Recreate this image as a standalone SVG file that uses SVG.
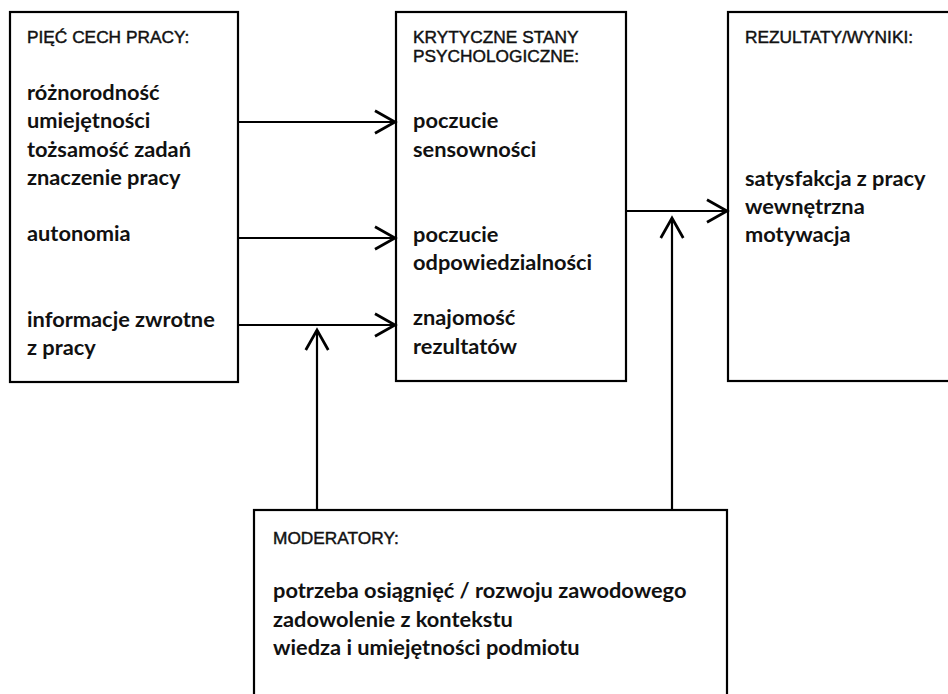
<svg xmlns="http://www.w3.org/2000/svg" width="948" height="694" viewBox="0 0 948 694">
<style>
.box{fill:#fff;stroke:#000;stroke-width:2.2}
.hd{font-family:"Liberation Sans",Arial,sans-serif;font-size:17.3px;fill:#111;stroke:#111;stroke-width:0.45}
.bd{font-family:Lato,"Open Sans",sans-serif;font-weight:700;font-size:21.8px;fill:#111}
.cn{fill:none;stroke:#000;stroke-width:2.2}
</style>
<defs>
<marker id="ah" markerUnits="userSpaceOnUse" markerWidth="30" markerHeight="30" viewBox="-20 -12 24 24" refX="0" refY="0" orient="auto">
<path d="M-16,-9 L0,0 L-16,9" fill="none" stroke="#000" stroke-width="2.2"/>
</marker>
</defs>
<rect width="948" height="694" fill="#fff"/>
<g id="cechy">
<rect class="box" x="10" y="12" width="228" height="370"/>
<text class="hd" x="27" y="43">PIĘĆ CECH PRACY:</text>
<text class="bd" x="27" y="100">różnorodność</text>
<text class="bd" x="27" y="128">umiejętności</text>
<text class="bd" x="27" y="157">tożsamość zadań</text>
<text class="bd" x="27" y="185">znaczenie pracy</text>
<text class="bd" x="27" y="241">autonomia</text>
<text class="bd" x="27" y="327">informacje zwrotne</text>
<text class="bd" x="27" y="355">z pracy</text>
</g>
<g id="stany">
<rect class="box" x="396" y="12" width="230" height="369"/>
<text class="hd" x="413" y="43">KRYTYCZNE STANY</text>
<text class="hd" x="413" y="62">PSYCHOLOGICZNE:</text>
<text class="bd" x="413" y="128">poczucie</text>
<text class="bd" x="413" y="157">sensowności</text>
<text class="bd" x="413" y="242">poczucie</text>
<text class="bd" x="413" y="270">odpowiedzialności</text>
<text class="bd" x="413" y="325">znajomość</text>
<text class="bd" x="413" y="354">rezultatów</text>
</g>
<g id="rezultaty">
<rect class="box" x="728" y="12" width="240" height="369"/>
<text class="hd" x="745" y="43">REZULTATY/WYNIKI:</text>
<text class="bd" x="745" y="186">satysfakcja z pracy</text>
<text class="bd" x="745" y="214">wewnętrzna</text>
<text class="bd" x="745" y="242">motywacja</text>
</g>
<g id="moderatory">
<rect class="box" x="254" y="510" width="473" height="200"/>
<text class="hd" x="273" y="544">MODERATORY:</text>
<text class="bd" x="273" y="598">potrzeba osiągnięć / rozwoju zawodowego</text>
<text class="bd" x="273" y="627">zadowolenie z kontekstu</text>
<text class="bd" x="273" y="655">wiedza i umiejętności podmiotu</text>
</g>
<g id="connectors">
<line class="cn" x1="238" y1="122" x2="395" y2="122" marker-end="url(#ah)"/>
<line class="cn" x1="238" y1="238" x2="395" y2="238" marker-end="url(#ah)"/>
<line class="cn" x1="238" y1="325" x2="395" y2="325" marker-end="url(#ah)"/>
<line class="cn" x1="626" y1="211" x2="727" y2="211" marker-end="url(#ah)"/>
<line class="cn" x1="317" y1="510" x2="317" y2="330" marker-end="url(#ah)"/>
<line class="cn" x1="672" y1="510" x2="672" y2="218" marker-end="url(#ah)"/>
</g>
</svg>
